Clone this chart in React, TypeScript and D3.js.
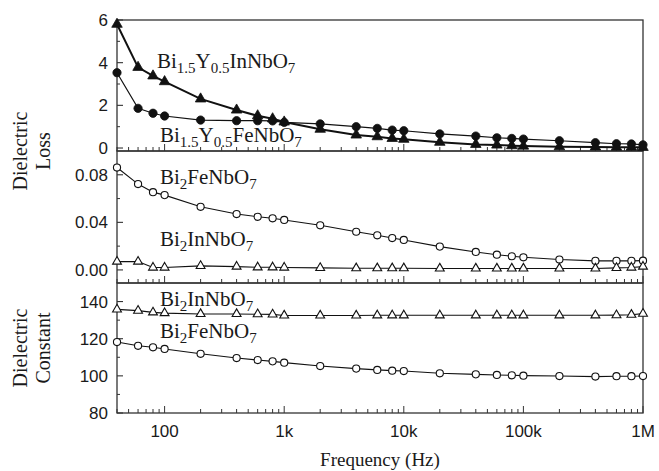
import React, { useEffect, useRef } from 'react';
import * as d3 from 'd3';

// frequencies (Hz) shared by all series
const freqs = [40, 60, 80, 100, 200, 400, 600, 800, 1e3, 2e3, 4e3, 6e3, 8e3, 1e4, 2e4, 4e4, 6e4, 8e4, 1e5, 2e5, 4e5, 6e5, 8e5, 1e6];

// dielectric loss, Y-doped
const lossYIn = [5.8, 3.78, 3.38, 3.11, 2.3, 1.78, 1.51, 1.37, 1.22, 0.88, 0.61, 0.53, 0.45, 0.41, 0.27, 0.17, 0.14, 0.11, 0.09, 0.06, 0.05, 0.04, 0.04, 0.03];
const lossYFe = [3.53, 1.86, 1.63, 1.5, 1.31, 1.28, 1.28, 1.27, 1.2, 1.13, 1.0, 0.92, 0.84, 0.81, 0.66, 0.56, 0.48, 0.45, 0.42, 0.34, 0.25, 0.2, 0.19, 0.15];

// dielectric loss, undoped
const lossFe = [0.0861, 0.0722, 0.0654, 0.0629, 0.0531, 0.047, 0.0447, 0.0434, 0.042, 0.0375, 0.0321, 0.0291, 0.0268, 0.0252, 0.0196, 0.0151, 0.0128, 0.0115, 0.0106, 0.0087, 0.0076, 0.0076, 0.0076, 0.0078];
const lossIn = [0.007, 0.007, 0.002, 0.002, 0.0034, 0.0028, 0.0022, 0.0022, 0.002, 0.0017, 0.0014, 0.0014, 0.0014, 0.0014, 0.0012, 0.0012, 0.0012, 0.0012, 0.0012, 0.0012, 0.0012, 0.0017, 0.002, 0.0028];

// dielectric constant
const constIn = [135.8, 135.1, 134.2, 133.8, 133.3, 133.3, 133.2, 133.1, 132.5, 132.5, 132.5, 132.6, 132.6, 132.6, 132.6, 132.6, 132.6, 132.6, 132.6, 132.6, 132.6, 132.7, 132.9, 133.5];
const constFe = [118.2, 116.2, 115.4, 114.5, 111.9, 109.6, 108.5, 107.8, 107.1, 105.3, 103.9, 103.2, 102.8, 102.6, 101.4, 100.8, 100.5, 100.3, 100.1, 99.9, 99.6, 99.8, 99.8, 99.9];

const xTickLabels = ['100', '1k', '10k', '100k', '1M'];

const W = 659;
const H = 471;
const serif = '"Liberation Serif", "DejaVu Serif", serif';
const sans = '"Liberation Sans", Arial, sans-serif';

const App = () => {
  const svgRef = useRef(null);

  useEffect(() => {
    const svg = d3.select(svgRef.current);
    svg.selectAll('*').remove();

    const x = d3.scaleLog().domain([40, 1e6]).range([117, 643]);

    const panels = [
      {
        y: d3.scaleLinear().domain([-0.14, 6]).range([151, 20]),
        major: [0, 2, 4, 6], minor: [1, 3, 5], fmt: d3.format('d'),
      },
      {
        y: d3.scaleLinear().domain([-0.011, 0.1]).range([283, 151]),
        major: [0, 0.04, 0.08], minor: [0.02, 0.06], fmt: d3.format('.2f'),
      },
      {
        y: d3.scaleLinear().domain([80, 150]).range([413, 283]),
        major: [80, 100, 120, 140], minor: [90, 110, 130], fmt: d3.format('d'),
      },
    ];

    const ink = '#1a1a1a';
    const [x0, x1] = x.range();

    panels.forEach((p) => {
      const [yb, yt] = p.y.range();
      svg.append('rect')
        .attr('x', x0).attr('y', yt)
        .attr('width', x1 - x0).attr('height', yb - yt)
        .attr('fill', 'none').attr('stroke', '#333').attr('stroke-width', 1.3);

      // inward y ticks
      p.major.forEach((v) => {
        svg.append('line')
          .attr('x1', x0).attr('x2', x0 + 6)
          .attr('y1', p.y(v)).attr('y2', p.y(v))
          .attr('stroke', '#333').attr('stroke-width', 1.1);
        svg.append('text')
          .attr('x', 108).attr('y', p.y(v))
          .attr('dy', '0.36em')
          .attr('text-anchor', 'end')
          .attr('font-family', sans).attr('font-size', 17)
          .attr('fill', ink)
          .text(p.fmt(v));
      });
      p.minor.forEach((v) => {
        svg.append('line')
          .attr('x1', x0).attr('x2', x0 + 3)
          .attr('y1', p.y(v)).attr('y2', p.y(v))
          .attr('stroke', '#333').attr('stroke-width', 1);
      });

      // inward x ticks on the bottom edge
      x.ticks().filter((t) => t >= 40).forEach((t) => {
        const m = Math.abs(Math.log10(t) % 1) < 1e-9;
        svg.append('line')
          .attr('x1', x(t)).attr('x2', x(t))
          .attr('y1', yb).attr('y2', yb - (m ? 7 : 4))
          .attr('stroke', '#333').attr('stroke-width', 1);
      });
    });

    const [pTop, pMid, pBot] = panels;

    const drawSeries = (vals, yScale, shape, filled, lw) => {
      const pts = freqs.map((f, i) => [x(f), yScale(vals[i])]);
      svg.append('path')
        .attr('d', d3.line()(pts))
        .attr('fill', 'none').attr('stroke', '#111').attr('stroke-width', lw);
      const sym = shape === 'tri'
        ? d3.symbol().type(d3.symbolTriangle).size(filled ? 48 : 34)
        : d3.symbol().type(d3.symbolCircle).size(filled ? 54 : 40);
      svg.append('g').selectAll('path')
        .data(pts)
        .join('path')
        .attr('transform', (d) => `translate(${d[0]},${d[1]})`)
        .attr('d', sym)
        .attr('fill', filled ? '#111' : '#fff')
        .attr('stroke', '#111').attr('stroke-width', filled ? 0.8 : 1.1);
    };

    drawSeries(lossYFe, pTop.y, 'circle', true, 1.2);
    drawSeries(lossYIn, pTop.y, 'tri', true, 2);
    drawSeries(lossFe, pMid.y, 'circle', false, 1.1);
    drawSeries(lossIn, pMid.y, 'tri', false, 1.1);
    drawSeries(constIn, pBot.y, 'tri', false, 1.1);
    drawSeries(constFe, pBot.y, 'circle', false, 1.1);

    // formula labels with subscripts
    const formula = (tx, ty, parts) => {
      const t = svg.append('text')
        .attr('x', tx).attr('y', ty)
        .attr('font-family', serif).attr('font-size', 21)
        .attr('fill', ink);
      let low = false;
      parts.forEach(([s, sub]) => {
        const span = t.append('tspan').text(s);
        if (sub && !low) { span.attr('dy', 5).attr('font-size', 15); low = true; }
        else if (sub) span.attr('font-size', 15);
        else if (low) { span.attr('dy', -5); low = false; }
      });
    };

    formula(157, 68, [['Bi'], ['1.5', true], ['Y'], ['0.5', true], ['InNbO'], ['7', true]]);
    formula(160, 142, [['Bi'], ['1.5', true], ['Y'], ['0.5', true], ['FeNbO'], ['7', true]]);
    formula(160, 184, [['Bi'], ['2', true], ['FeNbO'], ['7', true]]);
    formula(160, 246, [['Bi'], ['2', true], ['InNbO'], ['7', true]]);
    formula(160, 306, [['Bi'], ['2', true], ['InNbO'], ['7', true]]);
    formula(160, 338, [['Bi'], ['2', true], ['FeNbO'], ['7', true]]);

    // x tick labels
    [100, 1e3, 1e4, 1e5, 1e6].forEach((v, i) => {
      svg.append('text')
        .attr('x', x(v)).attr('y', 437)
        .attr('text-anchor', 'middle')
        .attr('font-family', sans).attr('font-size', 17)
        .attr('fill', ink)
        .text(xTickLabels[i]);
    });

    svg.append('text')
      .attr('x', (x0 + x1) / 2).attr('y', 466)
      .attr('text-anchor', 'middle')
      .attr('font-family', serif).attr('font-size', 19)
      .attr('fill', ink)
      .text('Frequency (Hz)');

    // rotated y titles, two lines each
    const yTitle = (cy, lines) => {
      lines.forEach((s, i) => {
        svg.append('text')
          .attr('transform', `translate(${27 + i * 23},${cy}) rotate(-90)`)
          .attr('text-anchor', 'middle')
          .attr('font-family', serif).attr('font-size', 20)
          .attr('fill', ink)
          .text(s);
      });
    };
    yTitle(151, ['Dielectric', 'Loss']);
    yTitle(348, ['Dielectric', 'Constant']);
  }, []);

  return (
    <svg
      ref={svgRef}
      width={W}
      height={H}
      style={{ position: 'absolute', left: 0, top: 0, background: '#fff' }}
    />
  );
};

export default App;
